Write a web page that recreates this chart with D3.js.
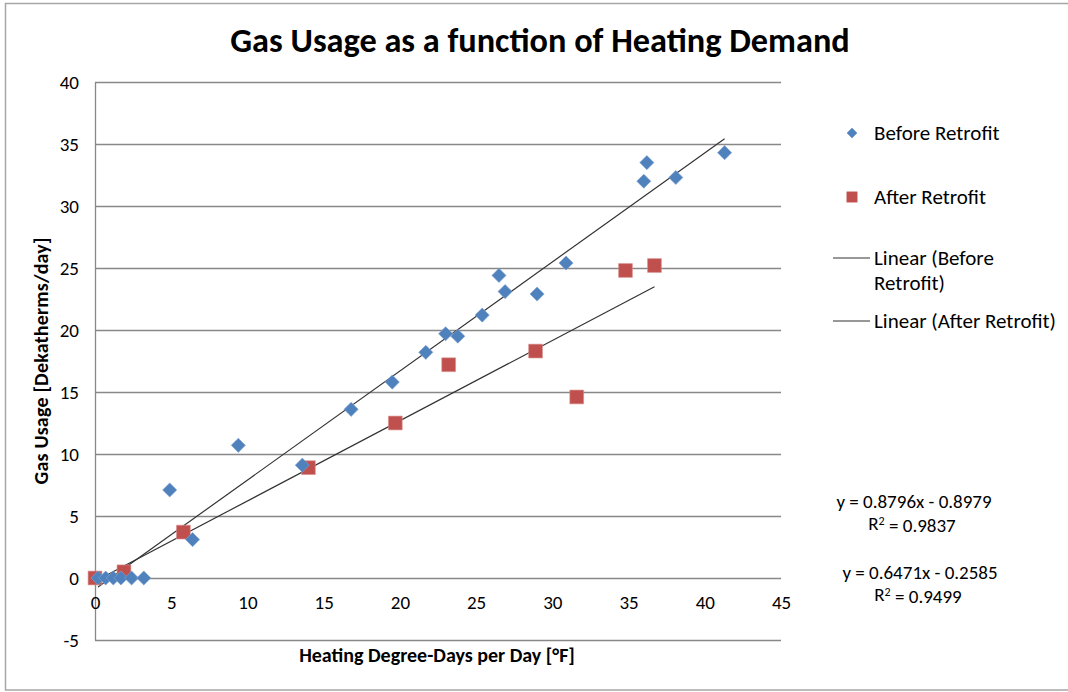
<!DOCTYPE html>
<html>
<head>
<meta charset="utf-8">
<script src="https://cdn.jsdelivr.net/npm/d3@7"></script>
<style>
body { margin: 0; background: #fff; }
text { font-family: Calibri, Carlito, Lato, sans-serif; fill: #000; }
</style>
</head>
<body>
<div id="chart"></div>
<script>
// values
var beforeX = [0.2, 0.7, 1.2, 1.7, 2.4, 3.2, 4.9, 6.4, 9.4, 13.6, 16.8, 19.5, 21.7, 23.0, 23.8, 25.4, 26.5, 26.9, 29.0, 30.9, 36.0, 36.2, 38.1, 41.3];
var beforeY = [0, 0, 0, 0, 0, 0, 7.1, 3.1, 10.7, 9.1, 13.6, 15.8, 18.2, 19.7, 19.5, 21.2, 24.4, 23.1, 22.9, 25.4, 32.0, 33.5, 32.3, 34.3];
var afterX = [0, 1.9, 5.8, 14.0, 19.7, 23.2, 28.9, 31.6, 34.8, 36.7];
var afterY = [0, 0.5, 3.7, 8.9, 12.5, 17.2, 18.3, 14.6, 24.8, 25.2];

var seriesNames = ["Before Retrofit", "After Retrofit"];
var trendSlopes = [0.8796, 0.6471];
var trendIntercepts = [-0.8979, -0.2585];
var rSquared = [0.9837, 0.9499];

var xTickValues = [0, 5, 10, 15, 20, 25, 30, 35, 40, 45];
var yTickValues = [-5, 0, 5, 10, 15, 20, 25, 30, 35, 40];

var width = 1068, height = 692;
var plot = {left: 95, right: 781, top: 82, bottom: 640};
var font = "Calibri, Carlito, Lato, sans-serif";

var svg = d3.select("#chart").append("svg")
    .attr("width", width)
    .attr("height", height);

// chart border
svg.append("rect")
    .attr("x", 5.5).attr("y", 3.5)
    .attr("width", 1070).attr("height", 686.5)
    .style("fill", "#fff")
    .style("stroke", "#a6a6a6")
    .style("stroke-width", 1.5);

var xScale = d3.scaleLinear()
    .domain([0, 45])
    .range([plot.left, plot.right]);

var yScale = d3.scaleLinear()
    .domain([-5, 40])
    .range([plot.bottom, plot.top]);

// y axis + gridlines
var yAxis = svg.append("g")
    .attr("class", "y axis")
    .attr("transform", "translate(" + plot.left + ",0)")
    .call(d3.axisLeft(yScale)
        .tickValues(yTickValues)
        .tickSizeInner(-(plot.right - plot.left))
        .tickSizeOuter(0)
        .tickPadding(16)
        .tickFormat(d => String(d)));
yAxis.selectAll("line").style("stroke", "#888").style("stroke-width", 1.3);
yAxis.select(".domain").style("stroke", "#888").style("stroke-width", 1.3);
yAxis.selectAll("text").style("font-size", "19px").style("fill", "#000")
    .style("font-family", font);

// x axis labels (axis line is the zero gridline)
var xAxis = svg.append("g")
    .attr("class", "x axis")
    .attr("transform", "translate(0," + yScale(0) + ")")
    .call(d3.axisBottom(xScale)
        .tickValues(xTickValues)
        .tickSize(0)
        .tickPadding(18)
        .tickFormat(d => String(d)));
xAxis.select(".domain").remove();
xAxis.selectAll("text").style("font-size", "19px").style("fill", "#000")
    .style("font-family", font);

// trendlines, from min x to max x of each series
var seriesX = [beforeX, afterX];
var trendLine = d3.line()
    .x(d => xScale(d[0]))
    .y(d => yScale(d[1]));

seriesX.forEach(function(xs, i) {
    var ext = d3.extent(xs);
    var pts = ext.map(x => [x, trendSlopes[i] * x + trendIntercepts[i]]);
    svg.append("path")
        .datum(pts)
        .attr("class", "trend")
        .attr("d", trendLine)
        .style("fill", "none")
        .style("stroke", "#333")
        .style("stroke-width", 1.2);
});

var before = beforeX.map((x, i) => ({x: x, y: beforeY[i]}));
var after = afterX.map((x, i) => ({x: x, y: afterY[i]}));

svg.selectAll(".square")
    .data(after)
    .enter().append("path")
    .attr("class", "square")
    .attr("transform", d => "translate(" + xScale(d.x) + "," + yScale(d.y) + ")")
    .attr("d", d3.symbol(d3.symbolSquare, 190))
    .style("fill", "#c0504d")
    .style("stroke", "#d98f8d")
    .style("stroke-width", 0.6);

svg.selectAll(".diamond")
    .data(before)
    .enter().append("path")
    .attr("class", "diamond")
    .attr("transform", d => "translate(" + xScale(d.x) + "," + yScale(d.y) + ") rotate(45)")
    .attr("d", d3.symbol(d3.symbolSquare, 100))
    .style("fill", "#4f81bd")
    .style("stroke", "#7fa3cf")
    .style("stroke-width", 0.6);

// title
svg.append("text")
    .attr("x", 540)
    .attr("y", 52)
    .attr("text-anchor", "middle")
    .style("font-size", "34.3px")
    .style("font-weight", "bold")
    .text("Gas Usage as a function of Heating Demand");

// axis titles
svg.append("text")
    .attr("x", 437)
    .attr("y", 662)
    .attr("text-anchor", "middle")
    .style("font-size", "20px")
    .style("font-weight", "bold")
    .text("Heating Degree-Days per Day [°F]");

svg.append("text")
    .attr("transform", "translate(48,361) rotate(-90)")
    .attr("text-anchor", "middle")
    .attr("textLength", 247)
    .attr("lengthAdjust", "spacing")
    .style("font-size", "20px")
    .style("font-weight", "bold")
    .text("Gas Usage [Dekatherms/day]");

// legend
var legend = svg.append("g").attr("class", "legend");
var legendText = { x: 874, size: "21px" };

legend.append("path")
    .attr("transform", "translate(852,133) rotate(45)")
    .attr("d", d3.symbol(d3.symbolSquare, 55))
    .style("fill", "#4f81bd");
legend.append("text")
    .attr("x", legendText.x).attr("y", 133).attr("dy", "0.35em")
    .style("font-size", legendText.size)
    .text(seriesNames[0]);

legend.append("path")
    .attr("transform", "translate(852,197)")
    .attr("d", d3.symbol(d3.symbolSquare, 120))
    .style("fill", "#c0504d");
legend.append("text")
    .attr("x", legendText.x).attr("y", 197).attr("dy", "0.35em")
    .style("font-size", legendText.size)
    .text(seriesNames[1]);

legend.append("line")
    .attr("x1", 833).attr("x2", 870).attr("y1", 258).attr("y2", 258)
    .style("stroke", "#333").style("stroke-width", 1.2);
legend.append("text")
    .attr("x", legendText.x).attr("y", 258).attr("dy", "0.35em")
    .style("font-size", legendText.size)
    .text("Linear (" + seriesNames[0].split(" ")[0]);
legend.append("text")
    .attr("x", legendText.x).attr("y", 283).attr("dy", "0.35em")
    .style("font-size", legendText.size)
    .text(seriesNames[0].split(" ")[1] + ")");

legend.append("line")
    .attr("x1", 833).attr("x2", 870).attr("y1", 321).attr("y2", 321)
    .style("stroke", "#333").style("stroke-width", 1.2);
legend.append("text")
    .attr("x", legendText.x).attr("y", 321).attr("dy", "0.35em")
    .style("font-size", legendText.size)
    .text("Linear (" + seriesNames[1] + ")");

// trendline equations
var eqPos = [{x: 914, y: 501}, {x: 920, y: 572}];
trendSlopes.forEach(function(m, i) {
    var b = trendIntercepts[i];
    var eq = "y = " + m.toFixed(4) + "x " + (b < 0 ? "- " : "+ ") + Math.abs(b).toFixed(4);
    svg.append("text")
        .attr("x", eqPos[i].x).attr("y", eqPos[i].y).attr("dy", "0.35em")
        .attr("text-anchor", "middle")
        .style("font-size", "19px")
        .text(eq);
    var r = svg.append("text")
        .attr("x", eqPos[i].x - 2).attr("y", eqPos[i].y + 22).attr("dy", "0.35em")
        .attr("text-anchor", "middle")
        .style("font-size", "19px");
    r.append("tspan").text("R");
    r.append("tspan").attr("dy", "-0.4em").style("font-size", "12px").text("2");
    r.append("tspan").attr("dy", "0.4em").text(" = " + rSquared[i].toFixed(4));
});
</script>
</body>
</html>
